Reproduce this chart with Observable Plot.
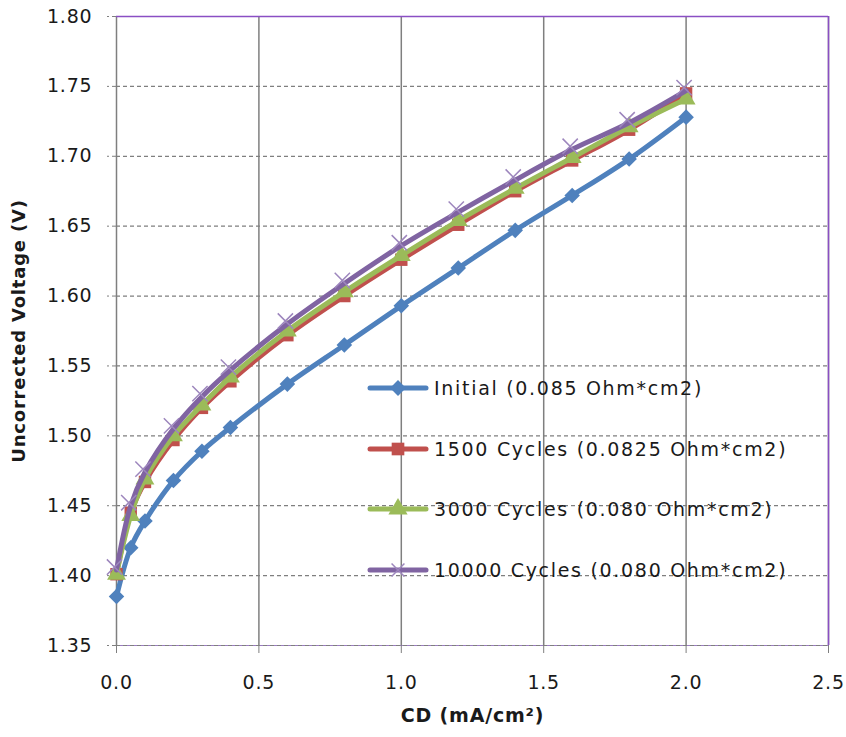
<!DOCTYPE html>
<html>
<head>
<meta charset="utf-8">
<script src="https://cdn.jsdelivr.net/npm/d3@7"></script>
<script src="https://cdn.jsdelivr.net/npm/@observablehq/plot@0.6"></script>
<style>
  html, body { margin: 0; padding: 0; background: #fff; }
  #wrap { position: relative; width: 846px; height: 737px; font-family: "DejaVu Sans", sans-serif; }
  #legend { position: absolute; left: 366px; top: 358px; }
  .row { position: relative; height: 60.5px; display: flex; align-items: center; }
  .row svg { display: block; }
  .row span { font-size: 19px; letter-spacing: 1.7px; color: #1a1a1a; margin-left: 4px; white-space: nowrap; }
</style>
</head>
<body>
<div id="wrap"></div>
<script>
// ---- data ----
const cd = [0, 0.05, 0.1, 0.2, 0.3, 0.4, 0.6, 0.8, 1.0, 1.2, 1.4, 1.6, 1.8, 2.0];
const initialV = [1.385, 1.420, 1.439, 1.468, 1.489, 1.506, 1.537, 1.565, 1.593, 1.620, 1.647, 1.672, 1.698, 1.728];
const cycles1500V = [1.401, 1.445, 1.467, 1.497, 1.520, 1.539, 1.572, 1.600, 1.626, 1.651, 1.675, 1.697, 1.719, 1.745];
const cycles3000V = [1.401, 1.443, 1.469, 1.500, 1.522, 1.542, 1.575, 1.603, 1.629, 1.654, 1.677, 1.699, 1.721, 1.741];
const cycles10000V = [1.404, 1.450, 1.474, 1.505, 1.528, 1.547, 1.580, 1.609, 1.636, 1.660, 1.683, 1.705, 1.724, 1.747];
const seriesNames = ["Initial (0.085 Ohm*cm2)", "1500 Cycles (0.0825 Ohm*cm2)", "3000 Cycles (0.080 Ohm*cm2)", "10000 Cycles (0.080 Ohm*cm2)"];
const xTicks = [0, 0.5, 1.0, 1.5, 2.0, 2.5];
const yTicks = [1.35, 1.40, 1.45, 1.50, 1.55, 1.60, 1.65, 1.70, 1.75, 1.80];
const xTitle = "CD (mA/cm²)";
const yTitle = "Uncorrected Voltage (V)";

// ---- styles ----
const colors = ["#4F81BD", "#C0504D", "#9BBB59", "#8064A2"];
const symbols = ["diamond2", "square", "triangle", "times"];
const seriesValues = [initialV, cycles1500V, cycles3000V, cycles10000V];

const series = seriesValues.map((vals, i) => cd.map((x, j) => ({x, y: vals[j], s: seriesNames[i]})));

const marks = [
  Plot.gridY(yTicks, {stroke: "#7f7f7f", strokeOpacity: 1, strokeDasharray: "4,3", strokeWidth: 1.2}),
  Plot.gridX(xTicks, {stroke: "#7f7f7f", strokeOpacity: 1, strokeWidth: 1.5}),
  Plot.ruleY([1.80], {stroke: "#8a4fc4", strokeWidth: 1.5}),
  Plot.ruleX([2.5], {stroke: "#8a4fc4", strokeWidth: 1.5}),
  Plot.ruleY([1.35], {stroke: "#9a7cc0", strokeWidth: 1}),
  Plot.ruleY([1.35], {stroke: "#7f7f7f", strokeDasharray: "4,3", strokeWidth: 1.2}),
  Plot.axisY(yTicks, {tickSize: 9, tickPadding: 15, tickFormat: d3.format(".2f"), stroke: "#7f7f7f", strokeDasharray: "4,3", label: null, fontSize: 19, fill: "#1a1a1a"}),
  Plot.axisX(xTicks, {tickSize: 8, tickPadding: 22, tickFormat: d3.format(".1f"), stroke: "#7f7f7f", label: null, fontSize: 19, fill: "#1a1a1a"}),
  Plot.text([xTitle], {frameAnchor: "bottom", dy: 76, fontWeight: "bold", fontSize: 19, fill: "#1a1a1a"}),
  Plot.text([yTitle], {frameAnchor: "left", textAnchor: "middle", dx: -97, rotate: -90, fontWeight: "bold", fontSize: 18, fill: "#1a1a1a"})
];

series.forEach((data, i) => {
  marks.push(Plot.line(data, {x: "x", y: "y", stroke: colors[i], strokeWidth: 5, curve: "catmull-rom"}));
  if (i === 3) {
    marks.push(Plot.dot(data, {x: "x", y: "y", symbol: "times", r: 7, stroke: "#9d86bd", strokeWidth: 1.5, dx: -2, dy: -3}));
  } else {
    marks.push(Plot.dot(data, {x: "x", y: "y", symbol: symbols[i], r: 7, fill: colors[i], stroke: "none"}));
  }
});

const chart = Plot.plot({
  width: 846,
  height: 737,
  marginLeft: 116,
  marginRight: 18,
  marginTop: 16,
  marginBottom: 92,
  style: {fontFamily: "DejaVu Sans, sans-serif", fontSize: "19px", letterSpacing: "0.8px", background: "#fff", overflow: "visible"},
  x: {domain: [0, 2.5]},
  y: {domain: [1.35, 1.80]},
  marks
});

const wrap = document.getElementById("wrap");
wrap.appendChild(chart);

// legend
const legend = document.createElement("div");
legend.id = "legend";
seriesNames.forEach((name, i) => {
  const row = document.createElement("div");
  row.className = "row";
  const sw = d3.create("svg").attr("width", 64).attr("height", 24);
  sw.append("line").attr("x1", 4).attr("x2", 60).attr("y1", 12).attr("y2", 12)
    .attr("stroke", colors[i]).attr("stroke-width", 5).attr("stroke-linecap", "round");
  const sym = i === 0 ? d3.symbolDiamond2 : i === 1 ? d3.symbolSquare : i === 2 ? d3.symbolTriangle : d3.symbolTimes;
  const path = d3.symbol(sym, i === 3 ? 110 : 160)();
  if (i === 3) {
    sw.append("path").attr("d", path).attr("transform", "translate(32,12)").attr("stroke", "#9d86bd").attr("stroke-width", 1.5).attr("fill", "none");
  } else {
    sw.append("path").attr("d", path).attr("transform", "translate(32,12)").attr("fill", colors[i]);
  }
  row.appendChild(sw.node());
  const label = document.createElement("span");
  label.textContent = name;
  row.appendChild(label);
  legend.appendChild(row);
});
wrap.appendChild(legend);
</script>
</body>
</html>
